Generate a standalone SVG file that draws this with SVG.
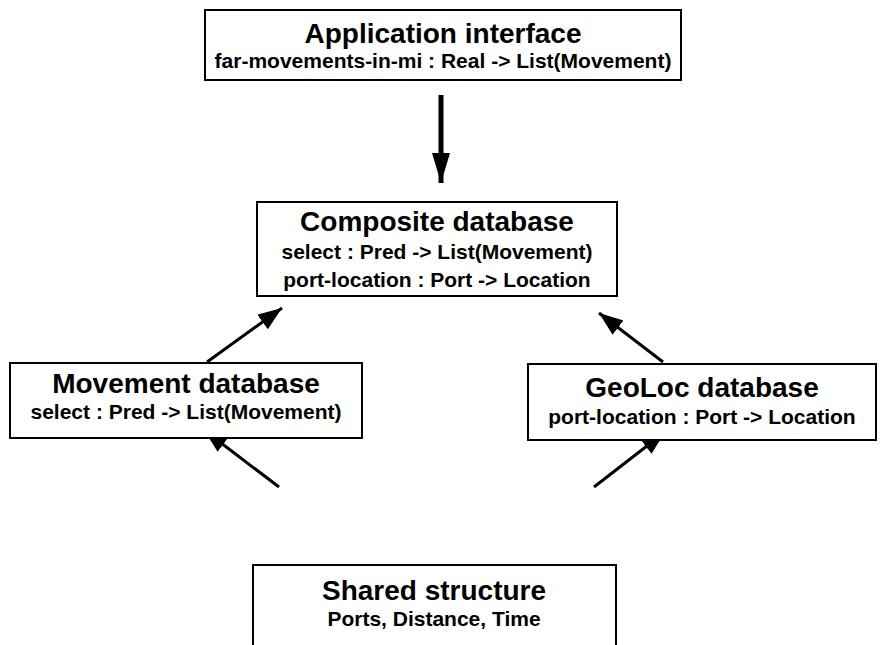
<svg xmlns="http://www.w3.org/2000/svg" width="885" height="645" viewBox="0 0 885 645">
  <defs>
    <style>
      .box { fill: #fff; stroke: #000; stroke-width: 2; }
      .title { font-family: "Liberation Sans", Arial, sans-serif; font-weight: bold; font-size: 28px; fill: #000; text-anchor: middle; }
      .sig { font-family: "Liberation Sans", Arial, sans-serif; font-weight: bold; font-size: 21px; fill: #000; text-anchor: middle; }
      .edge { stroke: #000; stroke-width: 3; fill: none; }
      .edge-thick { stroke: #000; stroke-width: 5; fill: none; }
    </style>
    <marker id="head" markerUnits="userSpaceOnUse" markerWidth="26" markerHeight="20" refX="24" refY="9" orient="auto">
      <path d="M0,0 L24,9 L0,18 Z" fill="#000"/>
    </marker>
    <marker id="head-big" markerUnits="userSpaceOnUse" markerWidth="32" markerHeight="20" refX="30" refY="9" orient="auto">
      <path d="M0,0 L30,9 L0,18 Z" fill="#000"/>
    </marker>
  </defs>
  <rect width="885" height="645" fill="#fff"/>

  <g id="connectors">
    <line class="edge-thick" x1="441" y1="95" x2="441" y2="183" marker-end="url(#head-big)"/>
    <line class="edge" x1="207" y1="362" x2="282" y2="308" marker-end="url(#head)"/>
    <line class="edge" x1="663" y1="362" x2="599" y2="313" marker-end="url(#head)"/>
    <line class="edge" x1="279" y1="487" x2="204" y2="430" marker-end="url(#head)"/>
    <line class="edge" x1="594" y1="487" x2="665" y2="432" marker-end="url(#head)"/>
  </g>

  <g id="app-interface">
    <rect class="box" x="205" y="10" width="476" height="70"/>
    <text class="title" x="443" y="43">Application interface</text>
    <text class="sig" x="443" y="68">far-movements-in-mi : Real -&gt; List(Movement)</text>
  </g>

  <g id="composite-db">
    <rect class="box" x="257" y="202" width="360" height="94"/>
    <text class="title" x="437" y="231">Composite database</text>
    <text class="sig" x="437" y="259">select : Pred -&gt; List(Movement)</text>
    <text class="sig" x="437" y="287">port-location : Port -&gt; Location</text>
  </g>

  <g id="movement-db">
    <rect class="box" x="10" y="363" width="352" height="75"/>
    <text class="title" x="186" y="393">Movement database</text>
    <text class="sig" x="186" y="419">select : Pred -&gt; List(Movement)</text>
  </g>

  <g id="geoloc-db">
    <rect class="box" x="528" y="364" width="348" height="76"/>
    <text class="title" x="702" y="397">GeoLoc database</text>
    <text class="sig" x="702" y="424">port-location : Port -&gt; Location</text>
  </g>

  <g id="shared-structure">
    <rect class="box" x="253" y="565" width="363" height="90"/>
    <text class="title" x="434" y="600">Shared structure</text>
    <text class="sig" x="434" y="626">Ports, Distance, Time</text>
  </g>
</svg>
